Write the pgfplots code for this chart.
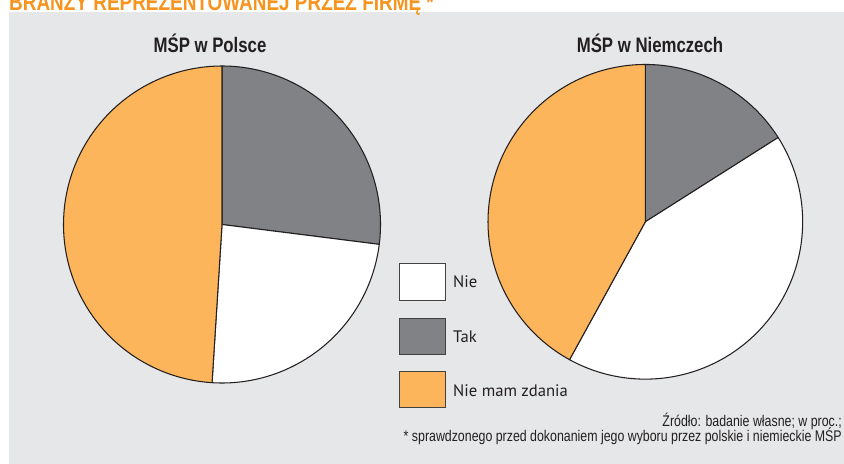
\documentclass[border=0pt]{standalone}
\usepackage{pgfplots}
\pgfplotsset{compat=1.18}
\usepackage{pgfplotstable}
\usepackage{fontspec}
\setmainfont{Liberation Sans}
\newfontfamily\condfont{Liberation Sans}[FakeStretch=0.8]
\newfontfamily\legfont{PT Sans}
\definecolor{bg}{HTML}{E6E7E8}
\definecolor{pgray}{HTML}{808285}
\definecolor{porange}{HTML}{FDB55B}
\definecolor{torange}{HTML}{F7941D}
\definecolor{edge}{HTML}{231F20}

% percentages: Tak, Nie, Nie mam zdania
\pgfplotstableread{
kat    pl  de
Tak    27  16
Nie    24  42
Zdania 49  42
}\piedata
\pgfplotstablegetelem{0}{pl}\of\piedata \edef\plTak{\pgfplotsretval}
\pgfplotstablegetelem{1}{pl}\of\piedata \edef\plNie{\pgfplotsretval}
\pgfplotstablegetelem{0}{de}\of\piedata \edef\deTak{\pgfplotsretval}
\pgfplotstablegetelem{1}{de}\of\piedata \edef\deNie{\pgfplotsretval}
\pgfmathsetmacro\plA{90-3.6*\plTak}
\pgfmathsetmacro\plB{\plA-3.6*\plNie}
\pgfmathsetmacro\deA{90-3.6*\deTak}
\pgfmathsetmacro\deB{\deA-3.6*\deNie}
\pgfplotsset{pieslice/.style={draw=edge, line width=0.9pt, line join=round, samples=120}}

\begin{document}
\begin{tikzpicture}
\useasboundingbox (0,0) rectangle (25.32cm,-13.92cm);
\clip (0,0) rectangle (25.32cm,-13.92cm);
\begin{scope}[x=0.03cm,y=-0.03cm]
\fill[bg] (9,12) rectangle (850,470);
\node[anchor=base west, inner sep=0, text=torange, font=\condfont\bfseries\fontsize{20.2pt}{22pt}\selectfont] at (9,11) {BRANŻY REPREZENTOWANEJ PRZEZ FIRMĘ *};
\node[anchor=base, inner sep=0, text=edge, font=\condfont\bfseries\fontsize{17.9pt}{20pt}\selectfont] at (210,53) {MŚP w Polsce};
\node[anchor=base, inner sep=0, text=edge, font=\condfont\bfseries\fontsize{17.9pt}{20pt}\selectfont] at (650,53) {MŚP w Niemczech};
% legend
\filldraw[fill=white, draw=edge!85, line width=0.6pt] (399,263) rectangle (445,300);
\filldraw[fill=pgray, draw=edge!85, line width=0.6pt] (399,318) rectangle (445,354);
\filldraw[fill=porange, draw=edge!85, line width=0.6pt] (399,371) rectangle (445,407);
\node[anchor=base west, inner sep=0, text=edge, font=\legfont\fontsize{14.2pt}{16pt}\selectfont] at (453,287.5) {Nie};
\node[anchor=base west, inner sep=0, text=edge, font=\legfont\fontsize{14.2pt}{16pt}\selectfont] at (453,343) {Tak};
\node[anchor=base west, inner sep=0, text=edge, font=\legfont\fontsize{14.2pt}{16pt}\selectfont] at (453,396.5) {Nie mam zdania};
% footnotes
\node[anchor=base east, inner sep=0, text=edge, font=\condfont\fontsize{13.2pt}{15pt}\selectfont] at (842,427) {Źródło: badanie własne; w proc.;};
\node[anchor=base east, inner sep=0, text=edge, font=\condfont\fontsize{13.2pt}{15pt}\selectfont] at (842,441.5) {* sprawdzonego przed dokonaniem jego wyboru przez polskie i niemieckie MŚP};
\end{scope}
% Poland pie
\begin{axis}[at={(6.66cm,-6.735cm)}, anchor=center, scale only axis, width=9.51cm, height=9.51cm,
  xmin=-1, xmax=1, ymin=-1, ymax=1, hide axis, clip=false]
\addplot[pieslice, fill=pgray, domain=\plA:90] ({cos(x)},{sin(x)}) -- (axis cs:0,0) -- cycle;
\addplot[pieslice, fill=white, domain=\plB:\plA] ({cos(x)},{sin(x)}) -- (axis cs:0,0) -- cycle;
\addplot[pieslice, fill=porange, domain=-270:\plB] ({cos(x)},{sin(x)}) -- (axis cs:0,0) -- cycle;
\end{axis}
% Germany pie
\begin{axis}[at={(19.36cm,-6.654cm)}, anchor=center, scale only axis, width=9.44cm, height=9.44cm,
  xmin=-1, xmax=1, ymin=-1, ymax=1, hide axis, clip=false]
\addplot[pieslice, fill=pgray, domain=\deA:90] ({cos(x)},{sin(x)}) -- (axis cs:0,0) -- cycle;
\addplot[pieslice, fill=white, domain=\deB:\deA] ({cos(x)},{sin(x)}) -- (axis cs:0,0) -- cycle;
\addplot[pieslice, fill=porange, domain=-270:\deB] ({cos(x)},{sin(x)}) -- (axis cs:0,0) -- cycle;
\end{axis}
\end{tikzpicture}
\end{document}
